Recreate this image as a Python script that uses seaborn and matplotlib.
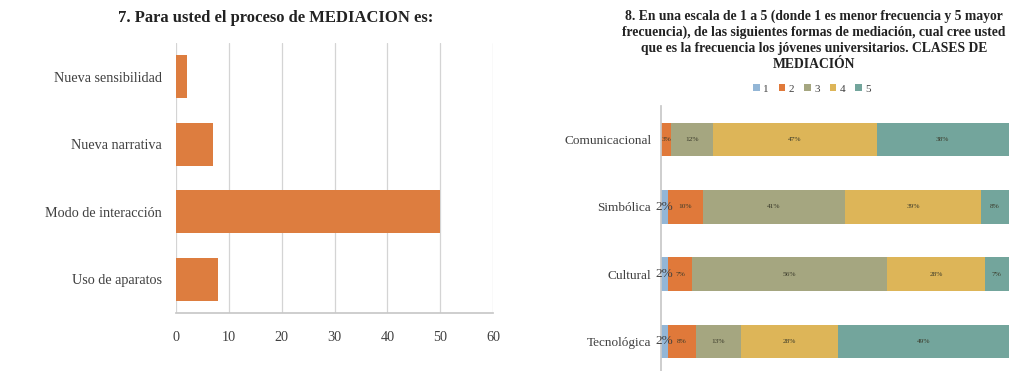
import numpy as np
import pandas as pd
import seaborn as sns
import matplotlib.pyplot as plt
from matplotlib.patches import Patch

# chart 7 data
procesos = ['Nueva sensibilidad', 'Nueva narrativa', 'Modo de interacción', 'Uso de aparatos']
conteos = [2, 7, 50, 8]

# chart 8 data (percent per scale level)
clases = ['Comunicacional', 'Simbólica', 'Cultural', 'Tecnológica']
nivel_1 = [0, 2, 2, 2]
nivel_2 = [3, 10, 7, 8]
nivel_3 = [12, 41, 56, 13]
nivel_4 = [47, 39, 28, 28]
nivel_5 = [38, 8, 7, 49]
niveles = ['1', '2', '3', '4', '5']

colores = ['#93B6D6', '#E0793A', '#A5A680', '#DDB558', '#73A59C']
naranja = '#DD7D3F'
texto = '#404040'

sns.set_theme(style='white')
plt.rcParams['font.family'] = ['Liberation Serif', 'DejaVu Serif']

fig = plt.figure(figsize=(10.24, 3.71), dpi=100)

# ---- left: horizontal bars ----
ax1 = fig.add_axes([0.1719, 0.1563, 0.3096, 0.7278])
df1 = pd.DataFrame({'proceso': procesos, 'n': conteos})
sns.barplot(data=df1, y='proceso', x='n', color=naranja, saturation=1, width=0.63,
            linewidth=0, ax=ax1)
ax1.set_xlim(0, 60)
ax1.set_xticks(range(0, 61, 10))
ax1.grid(axis='x', color='#D4D4D4', linewidth=0.9)
ax1.set_axisbelow(True)
for s in ['top', 'right', 'left']:
    ax1.spines[s].set_visible(False)
ax1.spines['bottom'].set_color('#C8C8C8')
ax1.set_xlabel('')
ax1.set_ylabel('')
ax1.tick_params(axis='both', length=0, labelsize=10.2, colors=texto)
ax1.tick_params(axis='x', pad=13)
ax1.tick_params(axis='y', pad=10)
fig.text(0.269, 0.951, '7. Para usted el proceso de MEDIACION es:', ha='center', va='center',
         fontsize=12, fontweight='bold', color='#222222')

# ---- right: 100% stacked bars ----
ax2 = fig.add_axes([0.6455, -0.0108, 0.3398, 0.7251])
df2 = pd.DataFrame({'clase': clases, '1': nivel_1, '2': nivel_2, '3': nivel_3,
                    '4': nivel_4, '5': nivel_5})
cum = df2[niveles].cumsum(axis=1)
# draw cumulative totals from the last level backwards so each level covers the next
for i in range(len(niveles) - 1, -1, -1):
    sns.barplot(y=df2['clase'], x=cum[niveles[i]], color=colores[i], saturation=1,
                width=0.5, orient='h', linewidth=0, ax=ax2)
for r, clase in enumerate(clases):
    for i, lvl in enumerate(niveles):
        v = df2.loc[r, lvl]
        if v == 0:
            continue
        mid = cum.loc[r, lvl] - v / 2
        if lvl == '1':
            ax2.text(mid, r, f'{v}%', ha='center', va='center', fontsize=9.5, color=texto)
        else:
            ax2.text(mid, r, f'{v}%', ha='center', va='center', fontsize=5.3, color='#3A3A2A')
ax2.set_xlim(0, 100)
ax2.set_ylim(3.5, -0.5)
ax2.set_xticks([])
for s in ['top', 'right', 'bottom']:
    ax2.spines[s].set_visible(False)
ax2.spines['left'].set_color('#C8C8C8')
ax2.set_xlabel('')
ax2.set_ylabel('')
ax2.tick_params(axis='y', length=0, labelsize=9.5, colors=texto, pad=7)

fig.text(0.795, 0.975,
         '8. En una escala de 1 a 5 (donde 1 es menor frecuencia y 5 mayor\n'
         'frecuencia), de las siguientes formas de mediación, cual cree usted\n'
         'que es la frecuencia los jóvenes universitarios. CLASES DE\n'
         'MEDIACIÓN',
         ha='center', va='top', fontsize=9.8, fontweight='bold', color='#222222',
         linespacing=1.3)

handles = [Patch(facecolor=c, edgecolor='none') for c in colores]
fig.legend(handles, niveles, loc='center', bbox_to_anchor=(0.793, 0.76), ncol=5,
           frameon=False, fontsize=8, handlelength=0.6, handleheight=0.6,
           handletextpad=0.3, columnspacing=0.9, labelcolor=texto)

fig.savefig('out.png', dpi=100, facecolor='white')
